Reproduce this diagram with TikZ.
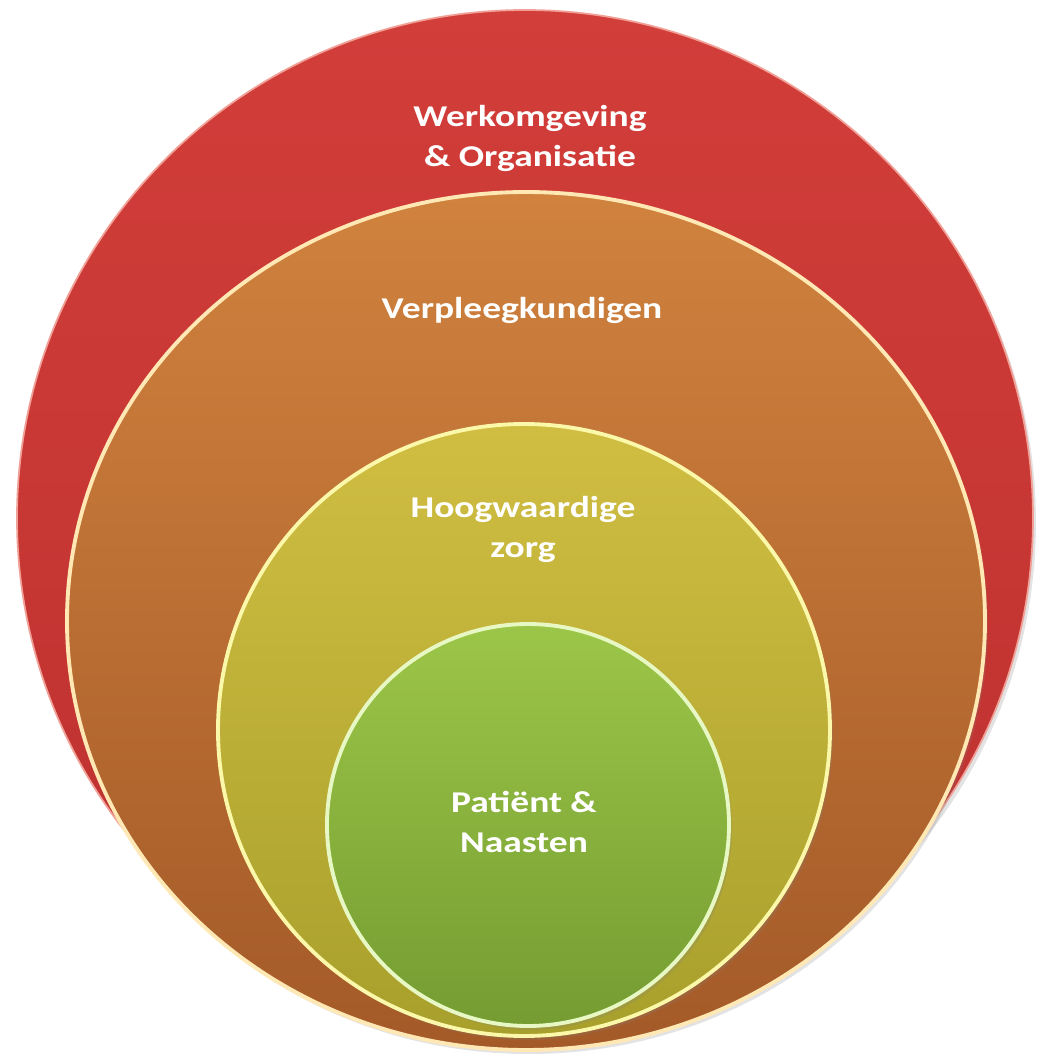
\documentclass[tikz,border=0pt]{standalone}
\usepackage{fontspec}
\setmainfont{Carlito}[FakeStretch=1.24]
\usetikzlibrary{positioning, shapes.geometric, shadows}

\definecolor{werkTop}{RGB}{210,62,58}
\definecolor{werkBot}{RGB}{188,48,46}
\definecolor{werkRim}{RGB}{240,160,150}
\definecolor{verplTop}{RGB}{208,130,62}
\definecolor{verplBot}{RGB}{164,90,40}
\definecolor{verplRim}{RGB}{255,232,180}
\definecolor{zorgTop}{RGB}{208,190,66}
\definecolor{zorgBot}{RGB}{168,160,44}
\definecolor{zorgRim}{RGB}{252,248,170}
\definecolor{patTop}{RGB}{156,198,72}
\definecolor{patBot}{RGB}{116,156,50}
\definecolor{patRim}{RGB}{232,248,196}

\begin{document}
\begin{tikzpicture}[
    ring/.style={inner sep=0pt, line width=1.1pt,
      drop shadow={opacity=0.22, shadow xshift=0.03cm, shadow yshift=-0.04cm}},
    lbl/.style={text=white, font=\bfseries\fontsize{8.6}{11.4}\selectfont, align=center}
  ]
    \useasboundingbox (0,0) rectangle (10.38,10.55);

    % the four layers, outside in
    \node[ring, circle, minimum size=10.16cm, draw=werkRim, line width=0.5pt,
      top color=werkTop, bottom color=werkBot] (Werk) at (5.25,5.37) {};
    \node[ring, ellipse, minimum width=9.18cm, minimum height=8.58cm, draw=verplRim,
      top color=verplTop, bottom color=verplBot] (Verpleeg) at (5.26,4.34) {};
    \node[ring, circle, minimum size=6.12cm, draw=zorgRim,
      top color=zorgTop, bottom color=zorgBot] (Zorg) at (5.24,3.25) {};
    \node[ring, circle, minimum size=4.02cm, draw=patRim,
      top color=patTop, bottom color=patBot] (Patient) at (5.28,2.30) {};

    % labels
    \node[lbl] (WerkTxt) at ([xshift=0.05cm, yshift=-1.29cm]Werk.north) {Werkomgeving\\\& Organisatie};
    \node[lbl] (VerpleegTxt) at ([xshift=-0.04cm, yshift=-1.20cm]Verpleeg.north) {Verpleegkundigen};
    \node[lbl] (ZorgTxt) at ([xshift=-0.01cm, yshift=-1.07cm]Zorg.north) {Hoogwaardige\\zorg};
    \node[lbl] (PatientTxt) at ([xshift=-0.04cm, yshift=0.03cm]Patient.center) {Patiënt \&\\Naasten};
\end{tikzpicture}
\end{document}
